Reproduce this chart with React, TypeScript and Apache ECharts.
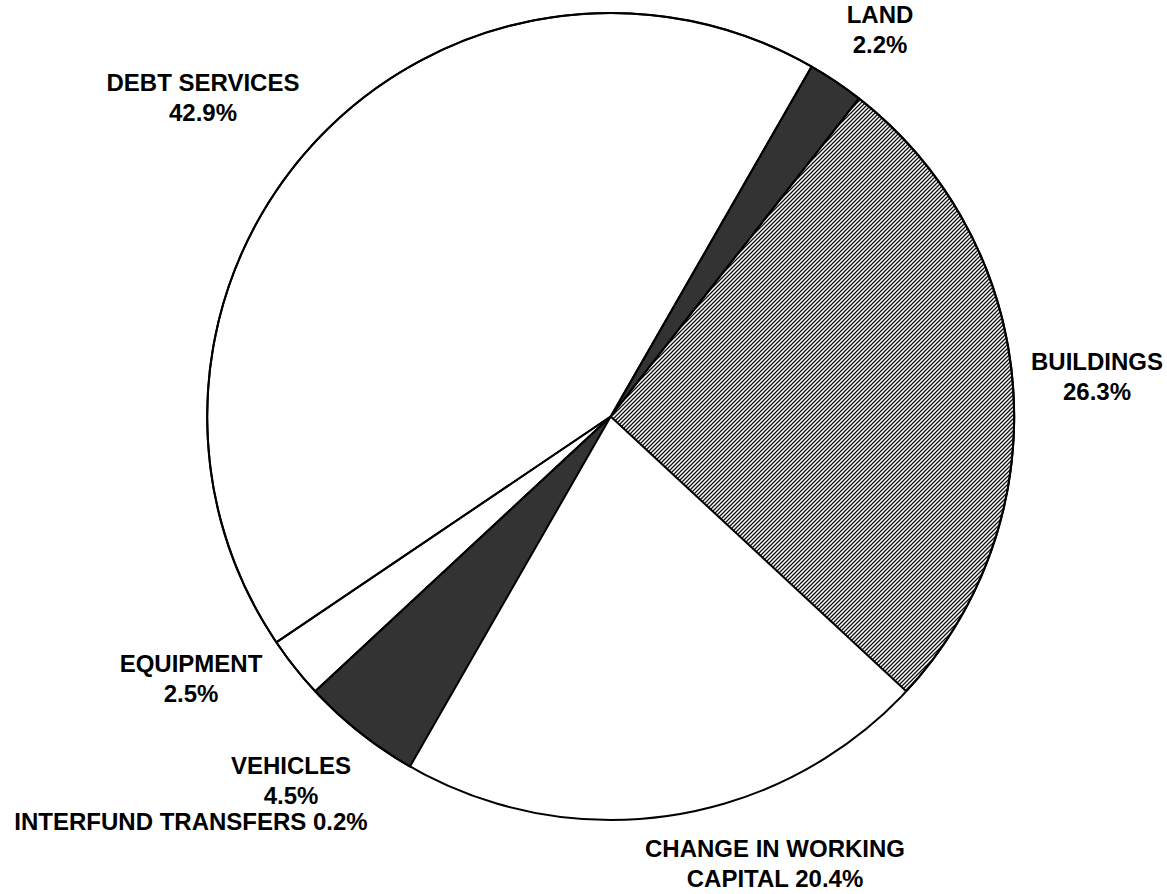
import React, { useEffect, useRef } from "react";
import * as echarts from "echarts";

const categories = [
  "LAND",
  "BUILDINGS",
  "CHANGE IN WORKING CAPITAL",
  "INTERFUND TRANSFERS",
  "VEHICLES",
  "EQUIPMENT",
  "DEBT SERVICES",
];
// slice sizes
const values = [2.25, 26.37, 21.17, 0.2, 4.79, 2.47, 42.75];
// percentages as printed on the chart
const pctLabels = ["2.2%", "26.3%", "20.4%", "0.2%", "4.5%", "2.5%", "42.9%"];
const labelTexts = [
  "LAND\n2.2%",
  "BUILDINGS\n26.3%",
  "CHANGE IN WORKING\nCAPITAL 20.4%",
  "INTERFUND TRANSFERS 0.2%",
  "VEHICLES\n4.5%",
  "EQUIPMENT\n2.5%",
  "DEBT SERVICES\n42.9%",
];
const fills = ["dark", "hatch", "white", "white", "dark", "white", "white"];
// slices whose own outline is drawn (the 0.2% sliver shows no edge of its own)
const outlined = [true, true, false, false, true, true, true];
const labelPos = [
  [880, 29],
  [1097, 376],
  [775, 863],
  [191, 821],
  [291, 780],
  [191, 678],
  [203, 97],
];

const hatchSvg =
  '<svg xmlns="http://www.w3.org/2000/svg" width="4" height="4">' +
  '<path d="M0,4 L4,0 M-1,1 L1,-1 M3,5 L5,3" stroke="#111" stroke-width="1.3"/></svg>';
const hatchUrl = "data:image/svg+xml;base64," + btoa(hatchSvg);

export default function App() {
  const ref = useRef<HTMLDivElement>(null);
  useEffect(() => {
    if (!ref.current) return;
    const chart = echarts.init(ref.current, null, { renderer: "svg" });
    const colorFor = (f: string): any => {
      if (f === "dark") return "#333333";
      if (f === "hatch") return { image: hatchUrl, repeat: "repeat" };
      return "#ffffff";
    };
    const center = [610.7, 416.5];
    const radius = 403.5;
    const startAngle = 60.13;
    chart.setOption({
      animation: false,
      backgroundColor: "#ffffff",
      series: [
        {
          type: "pie",
          center,
          radius: [0, radius],
          startAngle,
          clockwise: true,
          avoidLabelOverlap: false,
          silent: true,
          z: 2,
          itemStyle: { borderWidth: 0 },
          label: {
            show: true,
            position: "outside",
            color: "#000",
            fontFamily: "Liberation Sans, Arial, sans-serif",
            fontWeight: "bold",
            fontSize: 24,
            lineHeight: 30,
            align: "center",
            formatter: (p: any) => labelTexts[p.dataIndex],
          },
          labelLine: { show: false },
          labelLayout: (p: any) => ({
            x: labelPos[p.dataIndex][0],
            y: labelPos[p.dataIndex][1],
            align: "center",
            verticalAlign: "middle",
          }),
          data: categories.map((name, i) => ({
            name,
            value: values[i],
            pct: pctLabels[i],
            itemStyle: { color: colorFor(fills[i]) },
          })),
        },
        {
          type: "pie",
          center,
          radius: [0, radius],
          startAngle,
          clockwise: true,
          silent: true,
          z: 4,
          label: { show: false },
          labelLine: { show: false },
          data: categories.map((name, i) => ({
            name,
            value: values[i],
            itemStyle: {
              color: "rgba(0,0,0,0)",
              borderColor: outlined[i] ? "#000" : "rgba(0,0,0,0)",
              borderWidth: outlined[i] ? 2 : 0,
            },
          })),
        },
        {
          type: "pie",
          center,
          radius: [0, radius],
          silent: true,
          z: 5,
          label: { show: false },
          labelLine: { show: false },
          itemStyle: { color: "rgba(0,0,0,0)", borderColor: "#000", borderWidth: 2 },
          data: [{ name: "outline", value: 1 }],
        },
      ],
    });
    return () => chart.dispose();
  }, []);
  return (
    <div
      ref={ref}
      style={{ position: "absolute", left: 0, top: 0, width: 1167, height: 894 }}
    />
  );
}
